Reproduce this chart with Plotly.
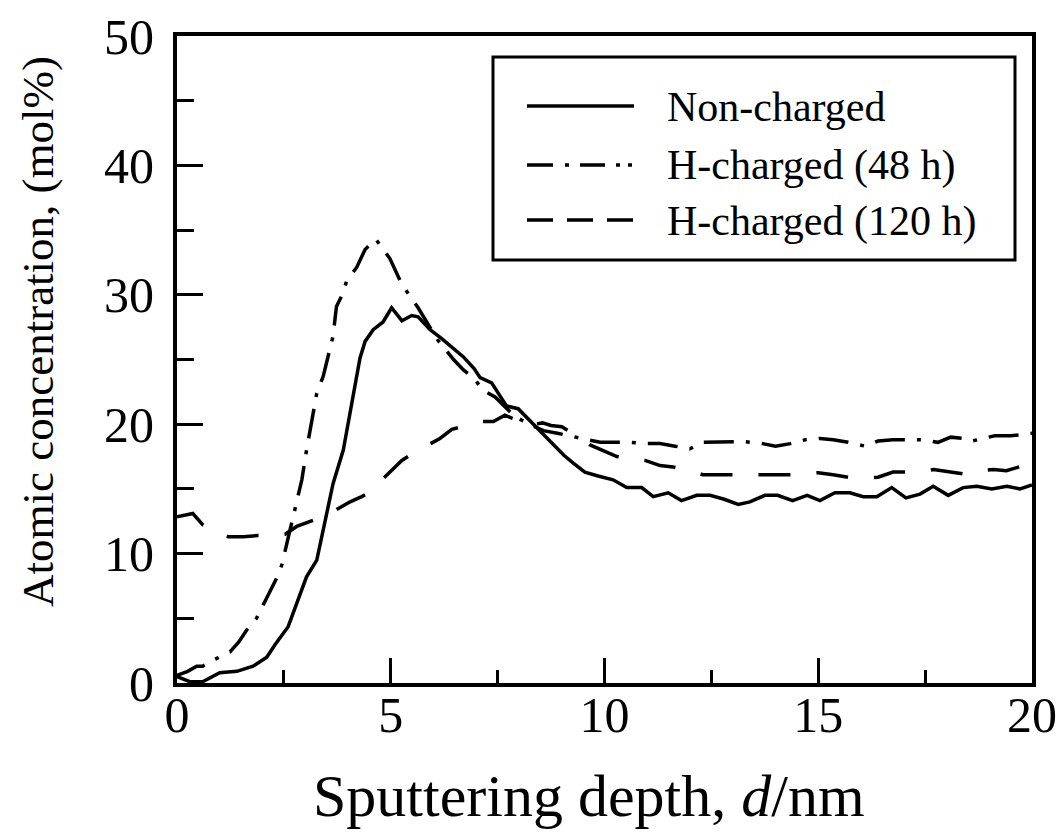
import plotly.graph_objects as go

# ---------------- data ----------------
x_non = [0, 0.3, 0.6, 1.0, 1.4, 1.78, 2.1, 2.3, 2.6, 2.83, 3.03, 3.27, 3.45, 3.65, 3.89,
         4.09, 4.28, 4.4, 4.59, 4.82, 5.02, 5.26, 5.49, 5.64, 5.92, 6.2, 6.45, 6.7, 6.95,
         7.09, 7.36, 7.71, 7.98, 8.25, 8.49, 8.8, 9.05, 9.27, 9.54, 9.85, 10.2, 10.52,
         10.87, 11.14, 11.49, 11.8, 12.16, 12.47, 12.8, 13.13, 13.4, 13.75, 14.05, 14.4,
         14.74, 15.04, 15.39, 15.74, 16.05, 16.37, 16.72, 17.05, 17.38, 17.69, 18.04,
         18.39, 18.71, 19.06, 19.41, 19.72, 20.0]
y_non = [0.5, 0.1, 0.1, 0.8, 0.9, 1.3, 2.0, 3.0, 4.35, 6.4, 8.2, 9.5, 12.2, 15.4, 18.0,
         21.6, 25.1, 26.4, 27.3, 27.9, 29.0, 28.0, 28.4, 28.3, 27.3, 26.6, 25.9, 25.2, 24.3,
         23.6, 23.2, 21.4, 21.2, 20.3, 19.5, 18.4, 17.6, 17.0, 16.3, 16.0, 15.7, 15.1,
         15.1, 14.4, 14.7, 14.1, 14.5, 14.5, 14.2, 13.8, 14.0, 14.5, 14.5, 14.1,
         14.5, 14.1, 14.7, 14.7, 14.4, 14.4, 15.1, 14.3, 14.6, 15.2, 14.5,
         15.1, 15.2, 15.0, 15.2, 15.0, 15.3]

x_48 = [0, 0.25, 0.46, 0.6, 0.93, 1.24, 1.45, 1.63, 1.86, 2.1, 2.33, 2.45, 2.6, 2.76, 2.92,
        3.03, 3.27, 3.42, 3.65, 3.73, 3.88, 3.97, 4.2, 4.4, 4.65, 4.98, 5.26, 5.45, 5.64,
        5.84, 6.1, 6.47, 6.7, 6.93, 7.17, 7.44, 7.7, 7.9, 8.18, 8.57, 8.9, 9.19, 9.58, 9.9,
        10.25, 10.6, 10.95, 11.3, 11.65, 12.0, 12.3, 12.65, 13.0, 13.3, 13.7, 14.0, 14.35,
        14.7, 15.04, 15.35, 15.7, 16.1, 16.4, 16.75, 17.1, 17.45, 17.8, 18.1, 18.4, 18.6,
        18.85, 19.13, 19.5, 19.75, 20.0]
y_48 = [0.6, 0.9, 1.3, 1.3, 1.9, 2.4, 3.2, 4.1, 5.0, 6.6, 8.1, 9.1, 11.3, 13.6, 15.7,
        18.0, 22.4, 23.7, 26.8, 29.1, 30.1, 31.1, 32.1, 33.5, 34.3, 32.8, 30.8, 29.9, 29.0,
        27.9, 26.5, 25.0, 24.2, 23.6, 22.6, 22.1, 21.2, 20.6, 20.1, 19.5, 19.3, 19.1, 18.8, 18.6,
        18.6, 18.6, 18.5, 18.5, 18.3, 18.1, 18.6, 18.6, 18.65, 18.65, 18.5, 18.3, 18.5,
        18.8, 18.9, 18.8, 18.6, 18.3, 18.7, 18.8, 18.8, 18.8, 18.6, 19.0, 18.9, 18.7,
        18.9, 19.1, 19.1, 19.2, 19.3]

x_120 = [0, 0.37, 0.61, 0.9, 1.2, 1.55, 1.9, 2.2, 2.53, 2.8, 3.2, 3.45, 3.73, 4.05, 4.32,
         4.55, 4.79, 5.05, 5.26, 5.55, 5.84, 6.15, 6.43, 6.75, 7.09, 7.4, 7.67, 7.95, 8.2,
         8.55, 8.75, 9.0, 9.3, 9.66, 10.0, 10.29, 10.6, 10.95, 11.3, 11.6, 12.0, 12.3, 12.7,
         13.0, 13.3, 13.6, 14.0, 14.4, 14.7, 15.0, 15.35, 15.7, 16.05, 16.4, 16.75, 17.1,
         17.4, 17.7, 18.1, 18.5, 18.8, 19.1, 19.4, 19.7, 20.0]
y_120 = [12.85, 13.1, 12.2, 11.6, 11.3, 11.3, 11.4, 11.4, 11.5, 12.1, 12.6, 12.9, 13.4, 14.0, 14.4,
         14.8, 15.7, 16.5, 17.2, 17.8, 18.3, 18.9, 19.6, 19.9, 20.2, 20.2, 20.7, 20.3, 19.9,
         20.1, 19.9, 19.8, 19.2, 18.4, 17.9, 17.5, 17.3, 17.2, 16.8, 16.7, 16.4, 16.1, 16.1,
         16.1, 16.1, 16.1, 16.1, 16.1, 16.2, 16.25, 16.1, 15.9, 15.8, 15.9, 16.3, 16.3,
         16.3, 16.5, 16.3, 16.1, 16.4, 16.5, 16.4, 16.7, 16.7]

series_names = ["Non-charged", "H-charged (48 h)", "H-charged (120 h)"]
x_ticks = [0, 5, 10, 15, 20]
y_ticks = [0, 10, 20, 30, 40, 50]

# ---------------- styling ----------------
FONT = "Liberation Serif, Times New Roman, serif"
W, H = 1062, 832
# target plot box on screen: x 177..1032, y 36..683
L, T, R, B = 177, 36, 30, 149
PW, PH = W - L - R, H - T - B


def px_x(p):
    """screen px -> paper x"""
    return (p - L) / PW


def px_y(p):
    """screen px -> paper y"""
    return (H - B - p) / PH


dashes_plot = ["solid", "30px,12px,4px,12px", "32px,26px"]
dashes_leg = ["solid", "26px,12px,4px,11px,25px,11px,4px,8px,4px,40px", "26px,14px"]

fig = go.Figure()
for xs, ys, name, d in zip([x_non, x_48, x_120], [y_non, y_48, y_120], series_names, dashes_plot):
    fig.add_trace(go.Scatter(x=xs, y=ys, mode="lines", name=name,
                             line=dict(color="black", width=3.5, dash=d),
                             showlegend=False))

axis_common = dict(showline=True, linewidth=4, linecolor="black", mirror=True,
                   ticks="inside", tickcolor="black", showgrid=False, zeroline=False,
                   automargin=False, ticklabeloverflow="allow",
                   tickfont=dict(family=FONT, size=50, color="black"))

fig.update_xaxes(range=[0, 20], tickvals=x_ticks, ticklen=25, tickwidth=3,
                 ticklabelstandoff=-15,
                 minor=dict(ticks="inside", dtick=2.5, ticklen=13, tickwidth=2.5,
                            tickcolor="black", showgrid=False),
                 **axis_common)
fig.update_yaxes(range=[0, 50], tickvals=y_ticks, ticklen=26, tickwidth=3,
                 ticklabelstandoff=9,
                 minor=dict(ticks="inside", dtick=5, ticklen=17, tickwidth=2.5,
                            tickcolor="black", showgrid=False),
                 **axis_common)

# legend drawn manually (box, sample lines, labels)
shapes = [dict(type="rect", xref="paper", yref="paper",
               x0=px_x(493), x1=px_x(1015), y0=px_y(260), y1=px_y(57),
               line=dict(color="black", width=3), fillcolor="white", layer="above")]
rows = [106, 165, 220]
annotations = []
for r, name, d in zip(rows, series_names, dashes_leg):
    shapes.append(dict(type="line", xref="paper", yref="paper",
                       x0=px_x(527), x1=px_x(634), y0=px_y(r), y1=px_y(r),
                       line=dict(color="black", width=3.5, dash=d), layer="above"))
    annotations.append(dict(xref="paper", yref="paper", x=px_x(665), y=px_y(r + 1),
                            xanchor="left", yanchor="middle", showarrow=False,
                            text=name, font=dict(family=FONT, size=42, color="black")))

annotations.append(dict(xref="paper", yref="paper", x=px_x(589), y=px_y(831),
                        xanchor="center", yanchor="bottom", showarrow=False,
                        text="Sputtering depth, <i>d</i>/nm",
                        font=dict(family=FONT, size=60, color="black")))
annotations.append(dict(xref="paper", yref="paper", x=px_x(38), y=px_y(332),
                        xanchor="center", yanchor="middle", showarrow=False, textangle=-90,
                        text="Atomic concentration, (mol%)",
                        font=dict(family=FONT, size=45, color="black")))

fig.update_layout(width=W, height=H, margin=dict(l=L, r=R, t=T, b=B),
                  plot_bgcolor="white", paper_bgcolor="white",
                  shapes=shapes, annotations=annotations, showlegend=False)

# pin the figure to the page's top-left corner (no default body margin)
pin = ("document.documentElement.style.margin='0';"
       "document.body.style.margin='0';"
       "document.body.style.overflow='hidden';"
       "var gd=document.getElementById('{plot_id}');"
       "gd.style.position='absolute';gd.style.left='0px';gd.style.top='0px';")

fig.write_html("out.html", post_script=pin, config={"displayModeBar": False})
